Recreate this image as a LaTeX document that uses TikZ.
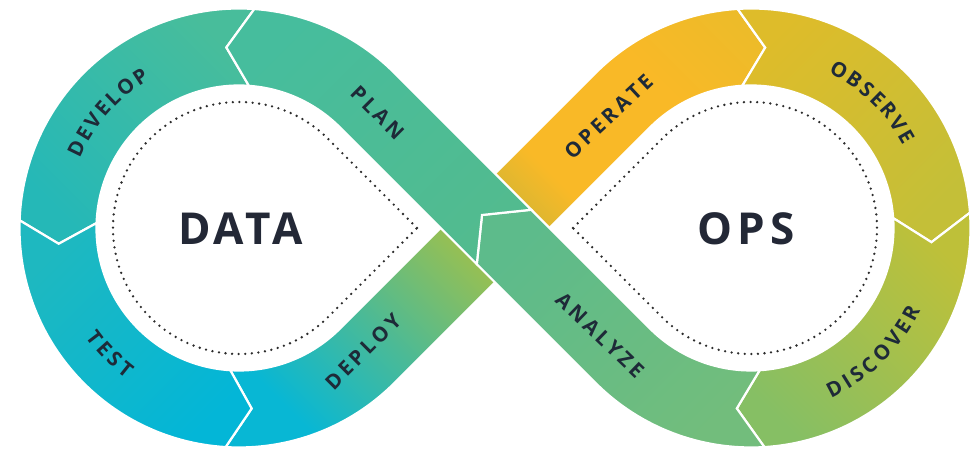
\documentclass[tikz,border=0pt]{standalone}
\usepackage{fontspec}
\setmainfont{Open Sans}
\usetikzlibrary{calc}
\definecolor{txt}{HTML}{1E2A38}
\definecolor{ttlc}{HTML}{232836}
\definecolor{dotc}{HTML}{2C2C2C}
\definecolor{devA}{HTML}{48BD9B}\definecolor{devB}{HTML}{25B8B7}
\definecolor{tstA}{HTML}{1EB8C0}\definecolor{tstB}{HTML}{03B6D7}
\definecolor{depA}{HTML}{ADC13F}\definecolor{depM}{HTML}{4BBA96}\definecolor{depB}{HTML}{08B7D4}
\definecolor{plnA}{HTML}{46BD9D}\definecolor{plnB}{HTML}{52BB8F}
\definecolor{opeA}{HTML}{EDBB29}\definecolor{opeM}{HTML}{F9B927}\definecolor{opeB}{HTML}{C8B538}
\definecolor{obsA}{HTML}{DEBC2A}\definecolor{obsB}{HTML}{C4BF38}
\definecolor{disA}{HTML}{BEC039}\definecolor{disB}{HTML}{86BF64}
\definecolor{anaA}{HTML}{5DBB8B}\definecolor{anaB}{HTML}{72BD7C}
\pgfdeclarehorizontalshading{opeS}{100bp}{color(0bp)=(opeB); color(22bp)=(opeB); color(36bp)=(opeM); color(62bp)=(opeM); color(80bp)=(opeA); color(100bp)=(opeA)}
\pgfdeclarehorizontalshading{depS}{100bp}{color(0bp)=(depB); color(28bp)=(depB); color(50bp)=(depM); color(78bp)=(depA); color(100bp)=(depA)}
\newlength\arclw
\newcommand\lblfont{\fontsize{20.5pt}{23pt}\selectfont\bfseries}
\newcommand\ls{\kern3.4pt}
\def\lsp{3.2}
\newcommand\defw[1]{\settowidth{\arclw}{\lblfont #1}\expandafter\xdef\csname w@#1\endcsname{\the\arclw}}
\AtBeginDocument{\defw{D}\defw{E}\defw{V}\defw{L}\defw{O}\defw{P}\defw{T}\defw{S}\defw{B}\defw{R}\defw{I}\defw{C}}
% #1 centre, #2 mid angle, #3 reading direction, #4 rotation offset, #5 letters, #6 name
\newcommand\ArcText[6]{%
  \gdef\arctot{0}%
  \foreach \ch in {#5}{\edef\wc{\csname w@\ch\endcsname}\pgfmathsetmacro\tmp{\arctot+\wc+\lsp}\xdef\arctot{\tmp}}%
  \pgfmathsetmacro\tmp{\arctot-\lsp}\xdef\arctot{\tmp}%
  \gdef\arcacc{0}%
  \foreach \ch [count=\k] in {#5}{\edef\wc{\csname w@\ch\endcsname}%
    \pgfmathsetmacro\ang{#2+(#3)*(\arcacc+0.5*\wc-0.5*\arctot)/181*57.29578}%
    \node[lbl, rotate={\ang+(#4)}] (#6\k) at ($(#1)+(\ang:181)$) {\ch};
    \pgfmathsetmacro\tmp{\arcacc+\wc+\lsp}\xdef\arcacc{\tmp}}%
}
\begin{document}
\begin{tikzpicture}[x=1pt,y=1pt,
  seg/.style={draw=white, line width=2.2pt, line join=miter},
  lbl/.style={text=txt, inner sep=0pt, font=\lblfont},
  ttl/.style={text=ttlc, inner sep=0pt, font=\fontsize{44pt}{50pt}\selectfont\bfseries},
  dots/.style={draw=dotc, line width=2.6pt, line cap=round, dash pattern=on 0pt off 6.6pt}]
\useasboundingbox (0,0) rectangle (979,449);
\fill[white] (0,0) rectangle (979,449);
\coordinate (L) at (239,221);
\coordinate (R) at (751,221);
\coordinate (C) at (495,221);
\def\ro{219.5}\def\ri{142.5}\def\rc{181}
% DEPLOY
\path[seg, shading=depS, shading angle=45]
  ($(L)+(266.5:\ro)$) arc[start angle=266.5,end angle=315,radius=\ro]
  -- ($(L)+(315:\ro)+(128,128)$) -- ($(L)+(315:\ri)+(128,128)$) -- ($(L)+(315:\ri)$)
  arc[start angle=315,end angle=266.5,radius=\ri] -- ($(L)+(274:\rc)$) -- cycle;
% OPERATE
\path[seg, shading=opeS, shading angle=45]
  ($(L)+(315:\ro)+(128,128)$) -- ($(R)+(135:\ri)$) arc[start angle=135,end angle=93.5,radius=\ri]
  -- ($(R)+(85.5:\rc)$) -- ($(R)+(93.5:\ro)$) arc[start angle=93.5,end angle=135,radius=\ro]
  -- ($(L)+(315:\ri)+(128,128)$) -- cycle;
% DEVELOP
\path[seg, top color=devA, bottom color=devB, shading angle=-45]
  ($(L)+(86:\ro)$) arc[start angle=86,end angle=178,radius=\ro] -- ($(L)+(185:\rc)$)
  -- ($(L)+(178:\ri)$) arc[start angle=178,end angle=86,radius=\ri] -- ($(L)+(94:\rc)$) -- cycle;
% TEST
\path[seg, top color=tstA, bottom color=tstB, shading angle=45]
  ($(L)+(178:\ro)$) arc[start angle=178,end angle=266.5,radius=\ro] -- ($(L)+(274:\rc)$)
  -- ($(L)+(266.5:\ri)$) arc[start angle=266.5,end angle=178,radius=\ri] -- ($(L)+(185:\rc)$) -- cycle;
% OBSERVE
\path[seg, top color=obsA, bottom color=obsB, shading angle=45]
  ($(R)+(93.5:\ro)$) arc[start angle=93.5,end angle=4,radius=\ro] -- ($(R)+(-4.5:\rc)$)
  -- ($(R)+(4:\ri)$) arc[start angle=4,end angle=93.5,radius=\ri] -- ($(R)+(85.5:\rc)$) -- cycle;
% DISCOVER
\path[seg, top color=disA, bottom color=disB, shading angle=-45]
  ($(R)+(4:\ro)$) arc[start angle=4,end angle=-86.5,radius=\ro] -- ($(R)+(-94.5:\rc)$)
  -- ($(R)+(-86.5:\ri)$) arc[start angle=-86.5,end angle=4,radius=\ri] -- ($(R)+(-4.5:\rc)$) -- cycle;
% ANALYZE
\path[seg, top color=anaA, bottom color=anaB, shading angle=45]
  ($(C)+(9,-9)+(45:38.5)$) -- ($(R)+(225:\ri)$) arc[start angle=225,end angle=273.5,radius=\ri]
  -- ($(R)+(265.5:\rc)$) -- ($(R)+(273.5:\ro)$) arc[start angle=273.5,end angle=225,radius=\ro]
  -- ($(C)+(9,-9)+(225:38.5)$) -- ($(C)+(-13,13)$) -- cycle;
% PLAN
\path[seg, top color=plnA, bottom color=plnB, shading angle=45]
  ($(L)+(86:\ro)$) arc[start angle=86,end angle=45,radius=\ro]
  -- ($(C)+(9,-9)+(45:38.5)$) -- ($(C)+(-13,13)$) -- ($(C)+(9,-9)+(225:38.5)$)
  -- ($(L)+(45:\ri)$) arc[start angle=45,end angle=86,radius=\ri] -- ($(L)+(94:\rc)$) -- cycle;
% dotted teardrops
\draw[dots] (417,221) -- ($(L)+(45:126)$) arc[start angle=45,end angle=315,radius=126] -- cycle;
\draw[dots] (573,221) -- ($(R)+(135:126)$) arc[start angle=135,end angle=-135,radius=126] -- cycle;
% titles
\node[ttl] (data) at (241,220) {D\kern2pt A\kern2pt T\kern2pt A};
\node[ttl] (ops) at (746,220) {O\kern5.5pt P\kern5.5pt S};
% straight labels
\node[lbl, rotate=-45] (plan) at (377.5,336.5) {P\ls L\ls A\ls N};
\node[lbl, rotate=45] (deploy) at (363,97.5) {D\ls E\ls P\ls L\ls O\ls Y};
\node[lbl, rotate=43] (operate) at (608.5,332.5) {O\ls P\ls E\ls R\ls A\ls T\ls E};
\node[lbl, rotate=-44] (analyze) at (600,114) {A\ls N\ls A\ls L\ls Y\ls Z\ls E};
% curved labels
\ArcText{L}{138.7}{-1}{-90}{D,E,V,E,L,O,P}{develop}
\ArcText{L}{224.3}{1}{90}{T,E,S,T}{test}
\ArcText{R}{46}{-1}{-90}{O,B,S,E,R,V,E}{observe}
\ArcText{R}{-45.4}{1}{90}{D,I,S,C,O,V,E,R}{discover}
\end{tikzpicture}
\end{document}
